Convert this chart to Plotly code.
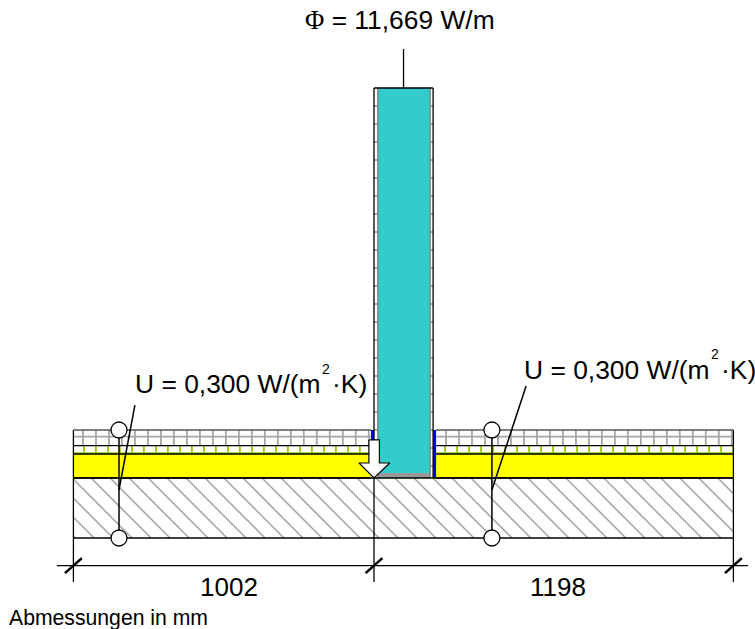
import numpy as np
import plotly.graph_objects as go

# --- drawing data, millimetres; x=0 at inner wall face, y=0 at top of floor ---
dimension_labels = ["1002", "1198"]
span_left = 1002
span_right = 1198
layer_names = ["Belag", "Estrich", "Daemmung", "Beton"]
layer_thickness = [52, 28, 80, 200]
wall_thickness = 197
wall_height = 1140
wall_strip = 13
heat_flow_text = "Φ = 11,669 W/m"
u_text_parts = ["U = 0,300 W/(m", "2", "·K)"]
note_text = "Abmessungen in mm"

SCALE = 0.3  # px per mm
W, H = 755, 629
X0, Y0 = 374, 430

floor_l = [-span_left, -10]
floor_r = [wall_thickness + 10, span_right]
d = np.cumsum([0] + layer_thickness)
depth_bottom = -d[-1]

fig = go.Figure()


def poly(xs, ys, fill, line=None, width=0):
    fig.add_trace(go.Scatter(
        x=xs, y=ys, mode="lines", fill="toself", fillcolor=fill,
        line=dict(color=line or fill, width=width), hoverinfo="skip", showlegend=False))


def rect(x0, x1, y0, y1, fill):
    poly([x0, x1, x1, x0, x0], [y0, y0, y1, y1, y0], fill)


def lines(segs, color, width):
    xs, ys = [], []
    for (a, b, c, e) in segs:
        xs += [a, c, None]
        ys += [b, e, None]
    fig.add_trace(go.Scatter(x=xs, y=ys, mode="lines", line=dict(color=color, width=width),
                             hoverinfo="skip", showlegend=False))


# fills
for fl in (floor_l, floor_r):
    rect(fl[0], fl[1], -d[2], -d[3], "#ffff00")
rect(wall_strip, wall_thickness - 10, -143, wall_height, "#33cccc")
rect(wall_strip, wall_thickness - 10, -160, -143, "#999999")
rect(-10, 0, -60, 0, "#0000e6")
rect(wall_thickness, wall_thickness + 10, -160, 0, "#0000e6")

# concrete hatch
hatch = []
for u in np.arange(-1103 - 63.3 * 30, 1700, 63.3):
    y_hi = -d[3]
    y_lo = depth_bottom
    x_a, y_a = u - y_hi, y_hi
    x_b, y_b = u - y_lo, y_lo
    if x_a < -span_left:
        x_a = -span_left
        y_a = u - x_a
    if x_b > span_right:
        x_b = span_right
        y_b = u - x_b
    if x_a < x_b and y_a > y_b:
        hatch.append((x_a, y_a, x_b, y_b))
lines(hatch, "#a6a6a6", 1.6)

# tile joints
tile = []
for x in np.arange(-970, -15, 43.3):
    tile.append((x, 0, x, -d[1]))
for x in np.arange(240, span_right - 5, 43.3):
    tile.append((x, 0, x, -d[1]))
for fl in (floor_l, floor_r):
    tile.append((fl[0], -22, fl[1], -22))
lines(tile, "#a6a6a6", 1.8)

# screed marks
green = []
for x in np.arange(-967, -5, 40):
    green.append((x, -d[1], x, -d[2]))
for x in np.arange(237, span_right, 40):
    green.append((x, -d[1], x, -d[2]))
for fl in (floor_l, floor_r):
    green.append((fl[0], -d[2] + 3, fl[1], -d[2] + 3))
lines(green, "#99cc00", 1.8)

# wall strip marks
strip = [(wall_strip, wall_height, wall_strip, -160),
         (wall_thickness - 10, wall_height, wall_thickness - 10, -160)]
for y in np.arange(1080, -140, -60):
    strip.append((0, y, wall_strip, y))
    strip.append((wall_thickness - 10, y, wall_thickness, y))
lines(strip, "#808080", 1.4)

# black outlines
black = [(0, wall_height, wall_thickness, wall_height),
         (wall_thickness, wall_height, wall_thickness, -160),
         (0, wall_height, 0, -507),
         (wall_thickness / 2, wall_height, wall_thickness / 2, 1270),
         (-span_left, -507, -span_left, 0),
         (span_right, -507, span_right, 0),
         (-1057, -452, 1247, -452)]
for fl in (floor_l, floor_r):
    for k in (1, 2, 3):
        black.append((fl[0], -d[k], fl[1], -d[k]))
black.append((-span_left, -d[4], span_right, -d[4]))
black.append((-span_left, -d[3], span_right, -d[3]))
lines(black, "#000000", 1.3)
lines([(fl[0], 0, fl[1], 0) for fl in (floor_l, floor_r)], "#555555", 1.6)

# dimension ticks
ticks = [(x - 28, -452 - 25, x + 28, -452 + 25) for x in (-span_left, 0, span_right)]
lines(ticks, "#000000", 2.6)

# heat flow arrow
poly([-17, 18, 18, 53, 0, -50, -17, -17],
     [-33, -33, -110, -110, -160, -110, -110, -33], "#ffffff", "#000000", 1.2)

# U-value leaders and markers
u_points = [-850, 393]
leaders = [(-850, -200, -797, 83), (393, -200, 507, 147)]
lines(leaders + [(x, 0, x, depth_bottom) for x in u_points], "#000000", 1.5)
fig.add_trace(go.Scatter(
    x=[x for p in u_points for x in (p, p)],
    y=[0, depth_bottom] * 2, mode="markers",
    marker=dict(size=16, color="#ffffff", line=dict(color="#000000", width=1.3)),
    hoverinfo="skip", showlegend=False))


def label(x, y, text, size, anchor="left"):
    fig.add_annotation(x=x, y=y, text=text, showarrow=False, xanchor=anchor, yanchor="middle",
                       font=dict(family="Liberation Sans", size=size, color="#000000"))


for dx, dy in ((0, 0), (1297, 47)):
    label(-803 + dx, 153 + dy, u_text_parts[0], 26.4)
    label(-160 + dx, 205 + dy, u_text_parts[1], 14, "center")
    label(-148 + dx, 153 + dy, u_text_parts[2], 26.4)
label(88, 1366, "<span style='font-family:Liberation Serif'>Φ</span>" + heat_flow_text[1:], 26.4, "center")
label(-484, -523, dimension_labels[0], 26, "center")
label(613, -523, dimension_labels[1], 26, "center")
label(-1225, -625, note_text, 21.2)

fig.update_layout(
    width=W, height=H, autosize=False,
    margin=dict(l=0, r=0, t=0, b=0),
    paper_bgcolor="#ffffff", plot_bgcolor="#ffffff",
    xaxis=dict(range=[-X0 / SCALE, (W - X0) / SCALE], visible=False, fixedrange=True),
    yaxis=dict(range=[(Y0 - H) / SCALE, Y0 / SCALE], visible=False, fixedrange=True),
)
fig.write_html("out.html", config={"displayModeBar": False},
               post_script="document.body.style.margin='0';document.documentElement.style.overflow='hidden';")
